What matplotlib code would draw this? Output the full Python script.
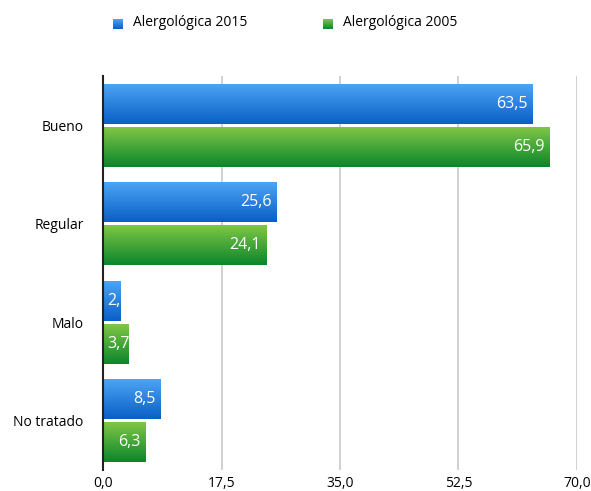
import numpy as np
import matplotlib.pyplot as plt
from matplotlib.colors import LinearSegmentedColormap
from matplotlib.transforms import offset_copy

plt.rcParams['font.family'] = ['Open Sans', 'DejaVu Sans']

categorias = ['Bueno', 'Regular', 'Malo', 'No tratado']
valores_2015 = [63.5, 25.6, 2.6, 8.5]
valores_2005 = [65.9, 24.1, 3.7, 6.3]
series = ['Alergológica 2015', 'Alergológica 2005']
ticks = [0, 17.5, 35, 52.5, 70]

azul = LinearSegmentedColormap.from_list('azul', ['#0a5fc6', '#4ca4f4'])
verde = LinearSegmentedColormap.from_list('verde', ['#0b862b', '#7fc646'])

fig = plt.figure(figsize=(5.91, 4.91), dpi=100)
ax = fig.add_axes([0.1743, 0.0428, 0.802, 0.8024])
ax.set_xlim(0, 70)
ax.set_ylim(3.5, -0.5)

y = np.arange(len(categorias))
alto = 0.405
desp = 0.218
grad = np.linspace(0, 1, 64).reshape(-1, 1)


def barras(vals, offs, cmap, color):
    rects = ax.barh(y + offs, vals, height=alto, color=color, zorder=2)
    for r, v in zip(rects, vals):
        x0, y0 = r.get_x(), r.get_y()
        w, h = r.get_width(), r.get_height()
        # vertical gradient, light on top
        im = ax.imshow(grad, extent=[x0, x0 + w, y0 + h, y0], origin='lower',
                       aspect='auto', cmap=cmap, zorder=3)
        im.set_clip_path(r)
        txt = f'{v:.1f}'.replace('.', ',')
        t = ax.text(v, y0 + h / 2, txt, color='white', fontsize=11.5,
                    ha='right', va='center', zorder=4,
                    transform=offset_copy(ax.transData, fig, x=-5, y=0, units='dots'))
        fig.canvas.draw()
        bb = t.get_window_extent()
        rb = r.get_window_extent()
        if bb.width + 6 > rb.width:
            # too short for the label: start it at the axis and cut it at the bar end
            t.set_ha('left')
            t.set_x(0)
            t.set_transform(offset_copy(ax.transData, fig, x=4, y=0, units='dots'))
            t.set_clip_path(r)
    return rects


barras(valores_2015, -desp, azul, '#2a82dc')
barras(valores_2005, desp, verde, '#3ea83a')

ax.set_xlim(0, 70)
ax.set_ylim(3.5, -0.5)
ax.set_xticks(ticks)
ax.set_xticklabels([f'{t:.1f}'.replace('.', ',') for t in ticks], fontsize=10)
ax.set_yticks(y)
ax.set_yticklabels(categorias, fontsize=10)
ax.tick_params(length=0, pad=4)
ax.tick_params(axis='y', pad=14)
ax.xaxis.grid(True, color='#c8c8c8', linewidth=1.2, zorder=0)
ax.set_axisbelow(True)
for s in ['top', 'right', 'bottom']:
    ax.spines[s].set_visible(False)
ax.spines['left'].set_color('#222222')
ax.spines['left'].set_linewidth(1.5)
ax.spines['left'].set_zorder(5)

# legend along the top
for xs, xt, nombre, cmap in [(113, 133, series[0], azul), (323, 343, series[1], verde)]:
    lax = fig.add_axes([xs / 591, 1 - 29 / 491, 10 / 591, 10 / 491])
    lax.imshow(grad, origin='lower', aspect='auto', cmap=cmap)
    lax.axis('off')
    fig.text(xt / 591, 1 - 23 / 491, nombre, fontsize=10, va='center', ha='left')

fig.savefig('out.png', dpi=100)
